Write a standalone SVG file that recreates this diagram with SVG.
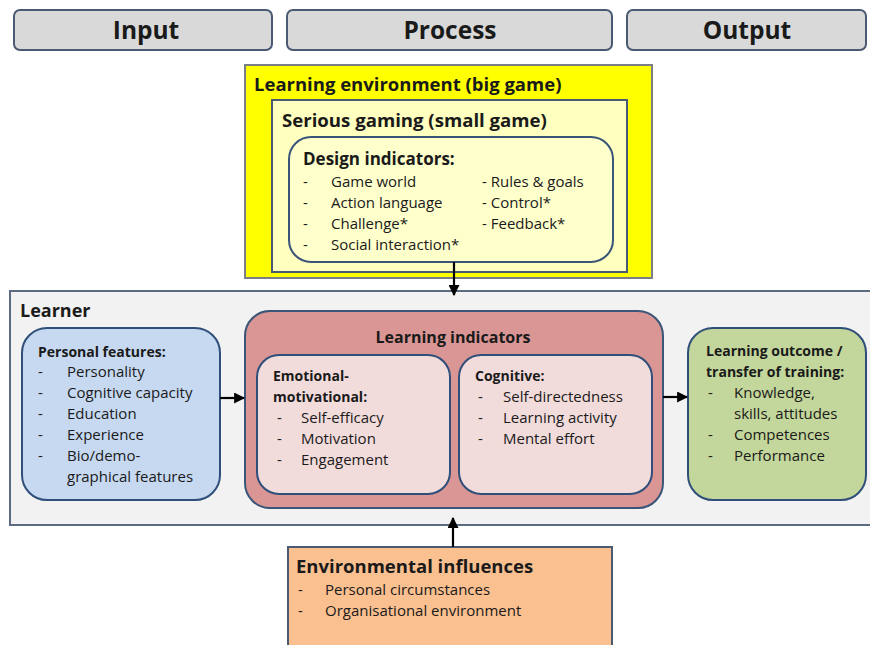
<svg xmlns="http://www.w3.org/2000/svg" width="870" height="645" viewBox="0 0 870 645">
<defs>
<style>
text{font-family:"Open Sans",Lato,"Liberation Sans",sans-serif;fill:#1a1a1a}
.hdr rect{fill:#d9d9d9;stroke:#4a5a72;stroke-width:2}
.hdr text{font-size:24.5px;font-weight:bold;text-anchor:middle}
.b{font-weight:bold}
.t{font-size:15px;fill:#262626}
.h{font-size:14px;font-weight:bold}
.conn{stroke:#000;stroke-width:2.2;fill:none;marker-end:url(#ah)}
</style>
<marker id="ah" viewBox="0 0 10 10" refX="9" refY="5" markerWidth="5" markerHeight="5" orient="auto"><path d="M0,0 L10,5 L0,10 z" fill="#000"/></marker>
</defs>
<rect width="870" height="645" fill="#fff"/>
<g id="input" class="hdr"><rect x="14" y="10" width="258" height="40" rx="6"/><text x="146" y="39">Input</text></g>
<g id="process" class="hdr"><rect x="287" y="10" width="325" height="40" rx="6"/><text x="450" y="39">Process</text></g>
<g id="output" class="hdr"><rect x="627" y="10" width="239" height="40" rx="6"/><text x="747" y="39">Output</text></g>

<g id="learning-environment">
<rect x="245" y="65" width="407" height="213" fill="#ffff00" stroke="#7a7f86" stroke-width="2"/>
<text x="254" y="91" class="b" font-size="18.5">Learning environment (big game)</text>
</g>
<g id="serious-gaming">
<rect x="272" y="100" width="355" height="172" fill="#ffffbf" stroke="#4a5a72" stroke-width="2"/>
<text x="282" y="127" class="b" font-size="18.6">Serious gaming (small game)</text>
</g>
<g id="design-indicators">
<rect x="289" y="137" width="324" height="125" rx="22" fill="#ffffcc" stroke="#3b5578" stroke-width="2"/>
<text x="303" y="165" class="b" font-size="17">Design indicators:</text>
<g class="t">
<text x="303" y="187">-</text><text x="331" y="187">Game world</text>
<text x="303" y="208">-</text><text x="331" y="208">Action language</text>
<text x="303" y="229">-</text><text x="331" y="229">Challenge*</text>
<text x="303" y="250">-</text><text x="331" y="250">Social interaction*</text>
<text x="482" y="187">- Rules &amp; goals</text>
<text x="482" y="208">- Control*</text>
<text x="482" y="229">- Feedback*</text>
</g>
</g>

<g id="learner">
<rect x="10" y="291" width="862" height="234" fill="#f2f2f2" stroke="#5c6b80" stroke-width="2"/>
<text x="20" y="317" class="b" font-size="18">Learner</text>
</g>
<g id="personal-features">
<rect x="22" y="328" width="198" height="172" rx="25" fill="#c6d9f1" stroke="#2f4f7a" stroke-width="2"/>
<text x="38" y="357" class="h" font-size="13.6">Personal features:</text>
<g class="t">
<text x="38" y="377">-</text><text x="67" y="377">Personality</text>
<text x="38" y="398">-</text><text x="67" y="398">Cognitive capacity</text>
<text x="38" y="419">-</text><text x="67" y="419">Education</text>
<text x="38" y="440">-</text><text x="67" y="440">Experience</text>
<text x="38" y="461">-</text><text x="67" y="461">Bio/demo-</text>
<text x="67" y="482">graphical features</text>
</g>
</g>
<g id="learning-indicators">
<rect x="245" y="311" width="418" height="197" rx="25" fill="#d99694" stroke="#3b5578" stroke-width="2"/>
<text x="453" y="343" class="b" font-size="16" text-anchor="middle">Learning indicators</text>
</g>
<g id="emotional-motivational">
<rect x="257" y="355" width="193" height="139" rx="22" fill="#f2dcdb" stroke="#2f4f7a" stroke-width="2"/>
<text x="273" y="381" class="h">Emotional-</text>
<text x="273" y="402" class="h">motivational:</text>
<g class="t">
<text x="277" y="423">-</text><text x="301" y="423">Self-efficacy</text>
<text x="277" y="444">-</text><text x="301" y="444">Motivation</text>
<text x="277" y="465">-</text><text x="301" y="465">Engagement</text>
</g>
</g>
<g id="cognitive">
<rect x="459" y="355" width="193" height="139" rx="22" fill="#f2dcdb" stroke="#2f4f7a" stroke-width="2"/>
<text x="475" y="381" class="h">Cognitive:</text>
<g class="t">
<text x="478" y="402">-</text><text x="503" y="402">Self-directedness</text>
<text x="478" y="423">-</text><text x="503" y="423">Learning activity</text>
<text x="478" y="444">-</text><text x="503" y="444">Mental effort</text>
</g>
</g>
<g id="learning-outcome">
<rect x="688" y="328" width="178" height="172" rx="25" fill="#c3d69b" stroke="#2f4f7a" stroke-width="2"/>
<text x="706" y="356" class="h" font-size="13.6">Learning outcome /</text>
<text x="706" y="377" class="h" font-size="13.6">transfer of training:</text>
<g class="t">
<text x="708" y="398">-</text><text x="734" y="398">Knowledge,</text>
<text x="734" y="419">skills, attitudes</text>
<text x="708" y="440">-</text><text x="734" y="440">Competences</text>
<text x="708" y="461">-</text><text x="734" y="461">Performance</text>
</g>
</g>
<g id="environmental-influences">
<rect x="288" y="547" width="324" height="110" fill="#fac090" stroke="#4a5a72" stroke-width="2"/>
<text x="296" y="573" class="b" font-size="18.5">Environmental influences</text>
<g class="t">
<text x="298" y="595">-</text><text x="325" y="595">Personal circumstances</text>
<text x="298" y="616">-</text><text x="325" y="616">Organisational environment</text>
</g>
</g>

<g id="connectors">
<line class="conn" x1="454" y1="262" x2="454" y2="295"/>
<line class="conn" x1="220" y1="398" x2="244" y2="398"/>
<line class="conn" x1="663" y1="397" x2="687" y2="397"/>
<line class="conn" x1="453" y1="547" x2="453" y2="518"/>
</g>
</svg>
